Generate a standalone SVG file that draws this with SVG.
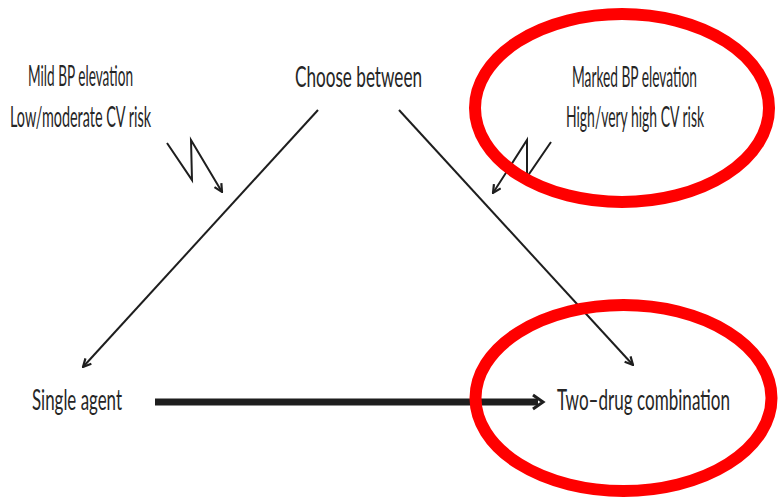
<svg xmlns="http://www.w3.org/2000/svg" width="780" height="498" viewBox="0 0 780 498">
<style>
.t{font-family:"Lato","Liberation Sans",sans-serif;font-size:28px;fill:#262626}
.ln{stroke:#1e1e1e;stroke-width:2;fill:none}
.hl{fill:none;stroke:#ff0000;stroke-width:12}
</style>
<defs>
<marker id="ah" viewBox="0 0 10 10" refX="9" refY="5" markerWidth="10" markerHeight="10" markerUnits="userSpaceOnUse" orient="auto">
<path d="M1,1 L9,5 L1,9" fill="none" stroke="#1e1e1e" stroke-width="2.2"/>
</marker>
</defs>
<rect width="780" height="498" fill="#fff"/>
<g id="connectors">
<line class="ln" x1="318" y1="110" x2="83" y2="367" marker-end="url(#ah)"/>
<line class="ln" x1="399" y1="110" x2="633" y2="365" marker-end="url(#ah)"/>
<polyline class="ln" points="167,143 192,180 191,140 222,192" marker-end="url(#ah)"/>
<polyline class="ln" points="551,142 527,177 527,140 493,193" marker-end="url(#ah)"/>
<line x1="155" y1="402" x2="538" y2="402" stroke="#1e1e1e" stroke-width="7"/>
<path d="M533,395 L543,402 L533,409" fill="none" stroke="#1e1e1e" stroke-width="3"/>
</g>
<g id="choose"><text class="t" x="295" y="87" textLength="127" lengthAdjust="spacingAndGlyphs">Choose between</text></g>
<g id="mild">
<text class="t" x="28" y="86" textLength="105" lengthAdjust="spacingAndGlyphs">Mild BP elevation</text>
<text class="t" x="10" y="127" textLength="141" lengthAdjust="spacingAndGlyphs">Low/moderate CV risk</text>
</g>
<g id="marked">
<text class="t" x="572" y="87" textLength="125" lengthAdjust="spacingAndGlyphs">Marked BP elevation</text>
<text class="t" x="566" y="127" textLength="138" lengthAdjust="spacingAndGlyphs">High/very high CV risk</text>
</g>
<g id="single"><text class="t" x="32" y="410" textLength="90" lengthAdjust="spacingAndGlyphs">Single agent</text></g>
<g id="twodrug"><text class="t" x="557" y="410" textLength="173" lengthAdjust="spacingAndGlyphs">Two–drug combination</text></g>
<g id="highlights">
<ellipse class="hl" cx="622" cy="108" rx="147" ry="94"/>
<ellipse class="hl" cx="623.5" cy="398" rx="148" ry="93"/>
</g>
</svg>
